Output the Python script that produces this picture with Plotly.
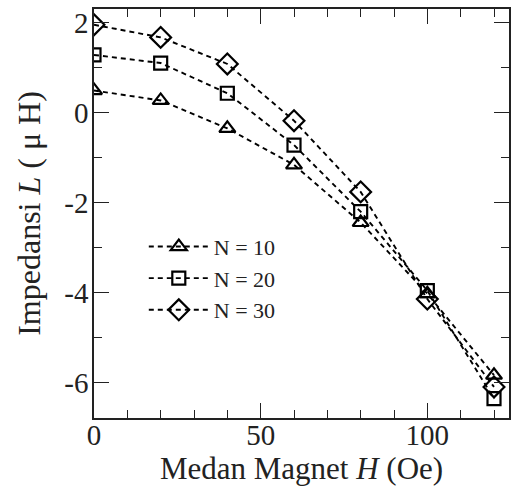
import plotly.graph_objects as go

H = [0, 20, 40, 60, 80, 100, 120]
L_N10 = [0.49, 0.27, -0.35, -1.16, -2.44, -4.02, -5.83]
L_N20 = [1.28, 1.10, 0.43, -0.72, -2.20, -3.95, -6.35]
L_N30 = [1.95, 1.67, 1.08, -0.18, -1.76, -4.14, -6.09]
names = ["N = 10", "N = 20", "N = 30"]
symbols = ["triangle-up-open", "square-open", "diamond-open"]
x_ticks = [0, 50, 100]
y_ticks = [-6, -4, -2, 0, 2]

FONT = "Liberation Serif"
fig = go.Figure()
for ys, nm, sym, sz in zip([L_N10, L_N20, L_N30], names, symbols, [14, 13, 16]):
    fig.add_trace(go.Scatter(
        x=H, y=ys, name=nm, mode="lines+markers",
        line=dict(color="black", width=1.9, dash="5px,4px"),
        marker=dict(symbol=sym, size=sz, color="black",
                    line=dict(color="black", width=2.2)),
    ))

axis_common = dict(
    showline=True, linecolor="#222", linewidth=1.6, mirror="ticks",
    ticks="inside", ticklen=15, tickwidth=1.4, tickcolor="#222",
    showgrid=False, zeroline=False,
    tickfont=dict(family=FONT, size=29, color="#222"),
)
fig.update_xaxes(
    range=[0, 124.5], tickvals=x_ticks, ticktext=[str(v) for v in x_ticks],
    minor=dict(dtick=10, tick0=0, ticks="inside", ticklen=8, tickwidth=1.4, tickcolor="#222"),
    ticklabelstandoff=-10,
    title=dict(text="Medan Magnet <i>H</i> (Oe)", font=dict(family=FONT, size=31, color="#222"), standoff=4),
    **axis_common,
)
fig.update_yaxes(
    range=[-6.78, 2.3], tickvals=y_ticks, ticktext=[str(v) for v in y_ticks],
    minor=dict(dtick=1, tick0=0, ticks="inside", ticklen=8, tickwidth=1.4, tickcolor="#222"),
    ticklabelstandoff=-2,
    title=dict(text="Impedansi <i>L</i> ( μ H)", font=dict(family=FONT, size=32, color="#222"), standoff=14),
    **axis_common,
)
fig.update_layout(
    width=514, height=491, autosize=False,
    margin=dict(l=94, r=3, t=9, b=73),
    paper_bgcolor="white", plot_bgcolor="white",
    showlegend=True,
    legend=dict(x=0.12, y=0.47, xanchor="left", yanchor="top",
                bgcolor="rgba(0,0,0,0)", font=dict(family=FONT, size=22, color="#222"),
                tracegroupgap=0, itemwidth=60),
)
fig.write_html("out.html", config={"displayModeBar": False},
               post_script="document.body.style.margin='0';")
